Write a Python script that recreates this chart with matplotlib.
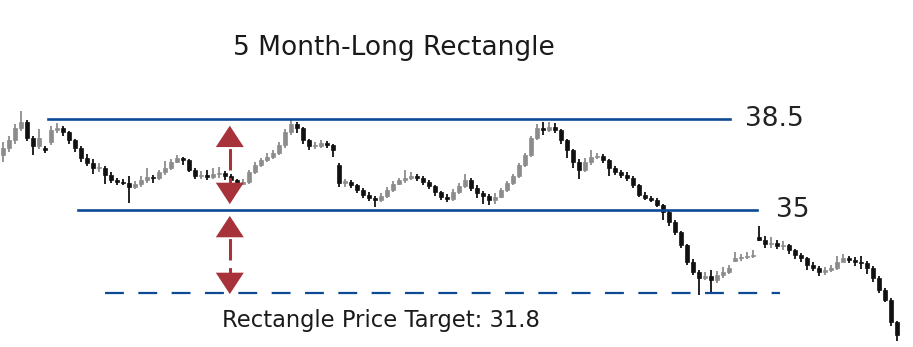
import matplotlib
matplotlib.use("Agg")
import matplotlib.pyplot as plt
from matplotlib.patches import Rectangle

# daily prices
opens = [37.10, 37.38, 37.69, 38.15, 38.38, 37.77, 37.46, 37.40, 37.60, 38.08,
         38.15, 38.00, 37.69, 37.38, 37.00, 36.81, 36.62, 36.62, 36.35, 36.15,
         36.08, 36.04, 35.88, 36.00, 36.15, 36.27, 36.23, 36.46, 36.62, 36.85,
         37.00, 36.92, 36.54, 36.31, 36.35, 36.27, 36.38, 36.42, 36.31, 36.15,
         36.00, 36.08, 36.46, 36.73, 36.92, 37.04, 37.19, 37.50, 38.00, 38.31,
         38.15, 37.69, 37.46, 37.46, 37.58, 37.50, 36.75, 36.05, 36.08, 35.96,
         35.77, 35.58, 35.46, 35.38, 35.54, 35.77, 36.00, 36.15, 36.23, 36.31,
         36.23, 36.08, 35.92, 35.69, 35.50, 35.42, 35.69, 35.92, 36.15, 35.85,
         35.65, 35.54, 35.38, 35.50, 35.77, 36.04, 36.31, 36.73, 37.12, 37.77,
         38.15, 38.08, 38.19, 38.08, 37.69, 37.31, 36.85, 36.54, 36.85, 37.04,
         37.08, 36.92, 36.62, 36.46, 36.35, 36.23, 35.96, 35.58, 35.46, 35.38,
         35.19, 34.92, 34.54, 34.15, 33.65, 33.00, 32.62, 32.38, 32.46, 32.31,
         32.50, 32.62, 33.05, 33.15, 33.19, 33.23, 33.95, 33.85, 33.70, 33.73,
         33.62, 33.65, 33.46, 33.27, 33.15, 32.88, 32.77, 32.62, 32.69, 32.77,
         33.00, 33.15, 33.08, 33.00, 32.96, 32.77, 32.38, 31.92, 31.54, 30.69]
closes = [37.38, 37.69, 38.15, 38.38, 37.77, 37.46, 37.77, 37.31, 38.08, 38.15,
          38.00, 37.69, 37.38, 37.00, 36.81, 36.62, 36.62, 36.35, 36.15, 36.08,
          36.04, 35.88, 36.00, 36.15, 36.27, 36.23, 36.46, 36.62, 36.85, 37.00,
          36.92, 36.54, 36.31, 36.35, 36.27, 36.38, 36.42, 36.31, 36.15, 36.00,
          36.08, 36.46, 36.73, 36.92, 37.04, 37.19, 37.50, 38.00, 38.31, 38.15,
          37.69, 37.46, 37.46, 37.58, 37.50, 37.31, 36.05, 36.08, 35.96, 35.77,
          35.58, 35.46, 35.38, 35.54, 35.77, 36.00, 36.15, 36.23, 36.31, 36.23,
          36.08, 35.92, 35.69, 35.50, 35.42, 35.69, 35.92, 36.15, 35.85, 35.65,
          35.54, 35.38, 35.50, 35.77, 36.04, 36.31, 36.73, 37.12, 37.77, 38.15,
          38.08, 38.19, 38.08, 37.69, 37.31, 36.85, 36.54, 36.85, 37.04, 37.08,
          36.92, 36.62, 36.46, 36.35, 36.23, 35.96, 35.58, 35.46, 35.38, 35.19,
          34.92, 34.54, 34.15, 33.65, 33.00, 32.62, 32.38, 32.46, 32.31, 32.50,
          32.62, 32.77, 33.15, 33.19, 33.23, 33.27, 33.85, 33.70, 33.73, 33.62,
          33.65, 33.46, 33.27, 33.15, 32.88, 32.77, 32.62, 32.69, 32.77, 33.00,
          33.15, 33.08, 33.00, 32.96, 32.77, 32.38, 31.92, 31.54, 30.69, 30.19]
highs = [37.60, 37.85, 38.30, 38.80, 38.45, 37.85, 38.10, 37.45, 38.25, 38.35,
         38.25, 38.05, 37.75, 37.45, 37.15, 36.95, 36.80, 36.70, 36.45, 36.25,
         36.20, 36.30, 36.12, 36.30, 36.60, 36.35, 36.55, 36.90, 36.95, 37.10,
         37.05, 36.98, 36.60, 36.50, 36.55, 36.60, 36.65, 36.50, 36.40, 36.20,
         36.20, 36.55, 36.85, 37.00, 37.20, 37.30, 37.60, 38.10, 38.50, 38.40,
         38.20, 37.75, 37.60, 37.70, 37.65, 37.55, 36.80, 36.20, 36.15, 36.00,
         35.85, 35.70, 35.55, 35.65, 35.90, 36.10, 36.25, 36.55, 36.45, 36.40,
         36.30, 36.15, 35.98, 35.75, 35.60, 35.80, 36.05, 36.40, 36.25, 35.95,
         35.75, 35.60, 35.65, 35.85, 36.10, 36.40, 36.80, 37.20, 37.85, 38.30,
         38.40, 38.40, 38.35, 38.10, 37.75, 37.35, 36.95, 37.00, 37.30, 37.20,
         37.15, 36.98, 36.70, 36.55, 36.45, 36.30, 36.00, 35.70, 35.55, 35.45,
         35.25, 34.95, 34.60, 34.20, 33.70, 33.10, 32.70, 32.60, 32.70, 32.65,
         32.80, 32.90, 33.40, 33.30, 33.40, 33.45, 34.40, 34.00, 33.95, 33.85,
         33.80, 33.70, 33.50, 33.35, 33.20, 33.00, 32.85, 32.80, 32.90, 33.25,
         33.30, 33.25, 33.20, 33.25, 33.05, 32.85, 32.45, 32.00, 31.60, 30.75]
lows = [36.85, 37.25, 37.55, 38.05, 37.65, 37.10, 37.35, 37.20, 37.50, 37.95,
        37.85, 37.55, 37.25, 36.85, 36.70, 36.40, 36.45, 36.00, 36.05, 35.98,
        35.95, 35.27, 35.80, 35.90, 36.05, 36.05, 36.15, 36.35, 36.55, 36.80,
        36.75, 36.45, 36.20, 36.20, 36.15, 36.20, 36.25, 36.15, 36.05, 35.80,
        35.95, 36.00, 36.40, 36.65, 36.85, 36.95, 37.10, 37.40, 37.90, 37.95,
        37.55, 37.30, 37.35, 37.40, 37.40, 37.05, 35.90, 35.90, 35.85, 35.65,
        35.45, 35.35, 35.10, 35.30, 35.45, 35.70, 35.95, 36.05, 36.15, 36.10,
        35.95, 35.80, 35.55, 35.40, 35.30, 35.35, 35.60, 35.85, 35.75, 35.45,
        35.25, 35.20, 35.25, 35.45, 35.70, 35.95, 36.25, 36.65, 37.05, 37.70,
        37.90, 38.00, 37.95, 37.55, 37.00, 36.60, 36.20, 36.45, 36.75, 36.95,
        36.80, 36.30, 36.35, 36.25, 36.10, 35.85, 35.50, 35.40, 35.30, 35.10,
        34.60, 34.40, 34.05, 33.55, 32.90, 32.50, 31.75, 32.30, 31.85, 32.20,
        32.40, 32.55, 33.00, 33.05, 33.10, 33.15, 33.80, 33.55, 33.55, 33.50,
        33.45, 33.30, 33.10, 33.00, 32.70, 32.65, 32.45, 32.50, 32.60, 32.70,
        33.00, 32.95, 32.85, 32.75, 32.55, 32.25, 31.80, 31.45, 30.55, 29.95]

top_level = 38.5
bottom_level = 35.0
target_level = 31.8
title = "5 Month-Long Rectangle"
target_text = "Rectangle Price Target: 31.8"

blue = "#0d4a96"
red = "#a8323a"

fig = plt.figure(figsize=(9.13, 3.47), dpi=100)
ax = fig.add_axes([0, 0, 1, 1])
ax.set_xlim(-0.5, 151.67)
ax.set_ylim(29.731, 43.077)
ax.axis("off")

# candlesticks
for i, (o, h, l, c) in enumerate(zip(opens, highs, lows, closes)):
    col = "#111111" if c < o else "#8c8c8c"
    ax.vlines(i, l, h, color=col, lw=1.3, zorder=2)
    body = max(abs(c - o), 0.05)
    ax.add_patch(Rectangle((i - 0.38, min(o, c)), 0.76, body,
                           facecolor=col, edgecolor=col, lw=0.5, zorder=3))

# rectangle boundaries and target
ax.plot([7.5, 121.2], [top_level, top_level], color=blue, lw=1.9, zorder=4)
ax.plot([12.5, 125.7], [bottom_level, bottom_level], color=blue, lw=1.9, zorder=4)
ax.plot([17, 129.5], [target_level, target_level], color=blue, lw=1.6,
        dashes=(8.5, 6.5), zorder=4)

ax.text(123.6, top_level, "38.5", fontsize=19, color="#222222", va="center",
        family="DejaVu Sans")
ax.text(128.8, bottom_level, "35", fontsize=19, color="#222222", va="center",
        family="DejaVu Sans")

# measuring arrows
arrow_x = 37.8
def dbl_arrow(y_low, y_high):
    ax.plot([arrow_x, arrow_x], [y_low + 0.3, y_high - 0.3], color=red, lw=2.2,
            dashes=(7, 2.5), zorder=5)
    for tip, back in ((y_low, y_low + 0.9), (y_high, y_high - 0.9)):
        ax.annotate("", xy=(arrow_x, tip), xytext=(arrow_x, back),
                    arrowprops=dict(arrowstyle="-|>,head_length=1.1,head_width=0.72",
                                    color=red, lw=0, mutation_scale=14),
                    zorder=6)

dbl_arrow(35.12, 38.35)
dbl_arrow(31.66, 34.88)

fig.text(0.431, 1 - 48 / 347, title, fontsize=19, color="#1a1a1a",
         ha="center", va="center", family="DejaVu Sans")
fig.text(0.243, 1 - 320 / 347, target_text, fontsize=16.3, color="#1a1a1a",
         ha="left", va="center", family="DejaVu Sans")

fig.savefig("out.png", dpi=100)
